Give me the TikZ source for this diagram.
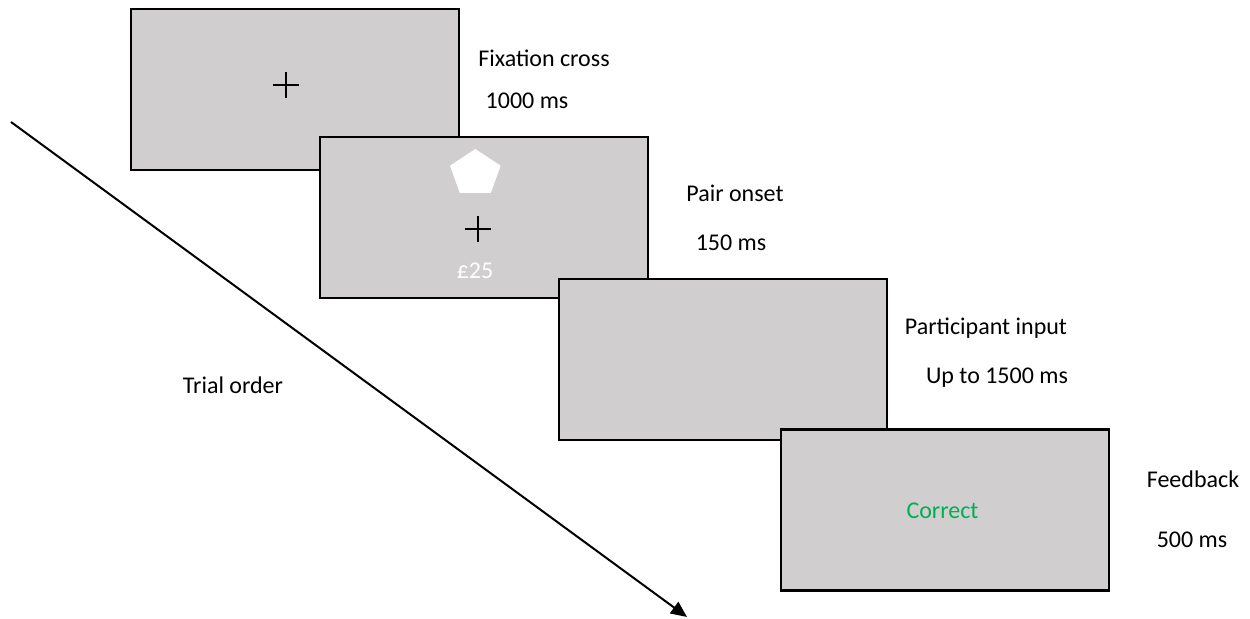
\documentclass[tikz,border=0pt]{standalone}
\usepackage{fontspec}
\setmainfont{Carlito}
\usetikzlibrary{arrows.meta}
\definecolor{screen}{HTML}{D0CECE}
\definecolor{okgreen}{HTML}{00B050}
\begin{document}
\begin{tikzpicture}[x=0.5pt,y=-0.5pt,
  screenbox/.style={draw=black,fill=screen,line width=1.4pt,minimum width=164pt,minimum height=80.5pt,inner sep=0pt},
  lbl/.style={font=\fontsize{12}{14}\selectfont,inner sep=0pt},
  fixcross/.style={line width=0.6pt}]
\useasboundingbox (0,0) rectangle (1250,619);
% screens, later ones on top
\node[screenbox] (s1) at (295,89.5) {};
\node[screenbox] (s2) at (484,217.5) {};
\node[screenbox] (s3) at (723,359.5) {};
\node[screenbox] (s4) at (945,510) {};
% fixation crosses
\draw[fixcross] (273,85) -- (299,85) (286,72) -- (286,98);
\draw[fixcross] (465,229) -- (491,229) (478,216) -- (478,242);
% stimulus: white pentagon and reward value
\fill[white] (475.3,149) -- (500.6,165.7) -- (490.9,192.8) -- (459.7,192.8) -- (450,165.7) -- cycle;
\node[lbl,text=white] (value) at (475,271) {£25};
\node[lbl,text=okgreen] (fb) at (942.5,511) {Correct};
% timing labels
\node[lbl] (l1) at (544,58) {Fixation cross};
\node[lbl] (t1) at (527,101) {1000 ms};
\node[lbl] (l2) at (735,193) {Pair onset};
\node[lbl] (t2) at (731,243) {150 ms};
\node[lbl] (l3) at (986,328) {Participant input};
\node[lbl] (t3) at (997,378) {Up to 1500 ms};
\node[lbl] (l4) at (1193,479) {Feedback};
\node[lbl] (t4) at (1192,540) {500 ms};
\node[lbl] (order) at (233,385) {Trial order};
% time axis
\coordinate (a0) at (11,122);
\coordinate (a1) at (687,617);
\draw[line width=1pt,-{Triangle[length=8pt,width=7pt]}] (a0) -- (a1);
\end{tikzpicture}
\end{document}
